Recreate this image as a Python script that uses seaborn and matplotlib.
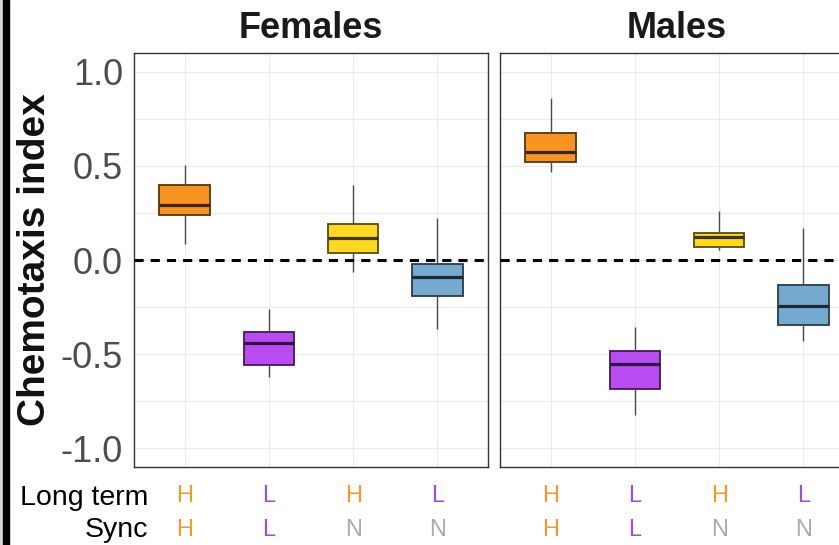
import matplotlib
matplotlib.use("Agg")
import numpy as np
import pandas as pd
import matplotlib.pyplot as plt
from matplotlib.colors import to_rgb
from matplotlib.patches import Rectangle
from matplotlib.transforms import blended_transform_factory
import seaborn as sns

# Groups (long-term / sync memory combinations) and their colours
groups = ["HH", "LL", "HN", "LN"]
long_term = ["H", "L", "H", "L"]
sync = ["H", "L", "N", "N"]
box_colors = ["#F8931F", "#B94BF2", "#FCD91E", "#74A9D0"]
letter_colors = {"H": "#F39A2C", "L": "#9E4FD6", "N": "#ABABAB"}

# Five-number summaries per group: lower whisker, Q1, median, Q3, upper whisker
females_low = [0.085, -0.621, -0.062, -0.367]
females_q1 = [0.238, -0.557, 0.037, -0.191]
females_median = [0.294, -0.441, 0.117, -0.090]
females_q3 = [0.400, -0.385, 0.191, -0.023]
females_high = [0.505, -0.261, 0.400, 0.223]

males_low = [0.470, -0.823, 0.055, -0.432]
males_q1 = [0.523, -0.686, 0.067, -0.347]
males_median = [0.573, -0.551, 0.124, -0.246]
males_q3 = [0.677, -0.482, 0.145, -0.131]
males_high = [0.862, -0.358, 0.259, 0.170]

panels = ["Females", "Males"]


def summary_frame(low, q1, med, q3, high):
    rows = []
    for g, a, b, c, d, e in zip(groups, low, q1, med, q3, high):
        for v in (a, b, c, d, e):
            rows.append({"group": g, "value": v})
    return pd.DataFrame(rows)


frames = {
    "Females": summary_frame(females_low, females_q1, females_median, females_q3, females_high),
    "Males": summary_frame(males_low, males_q1, males_median, males_q3, males_high),
}

sns.set_theme(style="white")
plt.rcParams["font.family"] = ["Liberation Sans", "DejaVu Sans"]

W, H = 839, 545
fig = plt.figure(figsize=(W / 100, H / 100), dpi=100)
fig.patch.set_facecolor("white")


def darken(c, f):
    r, g, b = to_rgb(c)
    return (r * f, g * f, b * f)


panel_left = [134, 500]
panel_w = 354
panel_top, panel_bottom = 53, 467
axes = []
for name, left in zip(panels, panel_left):
    ax = fig.add_axes([left / W, (H - panel_bottom) / H, panel_w / W, (panel_bottom - panel_top) / H])
    axes.append(ax)
    sns.boxplot(
        data=frames[name], x="group", y="value", hue="group",
        order=groups, hue_order=groups, palette=box_colors, saturation=1,
        width=0.6, whis=(0, 100), showcaps=False, showfliers=False,
        linewidth=1.0, linecolor="#555555", legend=False, ax=ax,
    )
    # darker outlines and medians matched to each fill
    for patch in ax.patches:
        patch.set_edgecolor(darken(patch.get_facecolor(), 0.35))
        patch.set_linewidth(1.3)
    for line in ax.lines:
        xd, yd = np.asarray(line.get_xdata()), np.asarray(line.get_ydata())
        if len(xd) == 2 and xd[0] != xd[1] and yd[0] == yd[1]:
            idx = int(round(xd.mean()))
            line.set_color(darken(box_colors[idx], 0.25))
            line.set_linewidth(2.3)
        else:
            line.set_color("#4A4A4A")
            line.set_linewidth(1.0)

    ax.axhline(0, color="black", lw=2.2, dashes=(3, 2.3), zorder=5)
    ax.set_xlim(-0.6, 3.6)
    ax.set_ylim(-1.1, 1.1)
    ax.set_yticks([-1.0, -0.5, 0.0, 0.5, 1.0])
    ax.set_yticks([-0.75, -0.25, 0.25, 0.75], minor=True)
    ax.set_xticks(range(len(groups)))
    ax.set_xticklabels([])
    ax.grid(True, which="both", axis="both", color="#EBEBEB", lw=0.8)
    ax.set_axisbelow(True)
    ax.set_xlabel("")
    ax.set_ylabel("")
    ax.tick_params(axis="both", which="both", length=0)
    for s in ax.spines.values():
        s.set_visible(True)
        s.set_color("#333333")
        s.set_linewidth(1.0)
    ax.text(0.5, 1.0 + 25 / (panel_bottom - panel_top), name, transform=ax.transAxes,
            ha="center", va="center", fontsize=26, fontweight="bold", color="#1A1A1A")

    # row letters under each box
    trans = blended_transform_factory(ax.transData, fig.transFigure)
    for i, (lt, sy) in enumerate(zip(long_term, sync)):
        ax.text(i, (H - 502) / H, lt, transform=trans, ha="center", va="baseline",
                fontsize=17, color=letter_colors[lt], clip_on=False)
        ax.text(i, (H - 536) / H, sy, transform=trans, ha="center", va="baseline",
                fontsize=17, color=letter_colors[sy], clip_on=False)

axes[0].set_yticklabels(["-1.0", "-0.5", "0.0", "0.5", "1.0"])
axes[0].tick_params(axis="y", labelsize=26, labelcolor="#4D4D4D", pad=8)
axes[1].set_yticklabels([])

fig.text(35 / W, (H - 260) / H, "Chemotaxis index", rotation=90, ha="center", va="center",
         fontsize=28, fontweight="bold", color="#111111")
fig.text(148 / W, (H - 505) / H, "Long term", ha="right", va="baseline", fontsize=20.5, color="black")
fig.text(148 / W, (H - 537) / H, "Sync", ha="right", va="baseline", fontsize=20.5, color="black")

# frame edge on the left side
fig.patches.append(Rectangle((0, 0), 3 / W, 1, transform=fig.transFigure, color="#D6DAD2", zorder=10))
fig.patches.append(Rectangle((3 / W, 0), 6 / W, 1, transform=fig.transFigure, color="black", zorder=10))

fig.savefig("out.png", dpi=100)
